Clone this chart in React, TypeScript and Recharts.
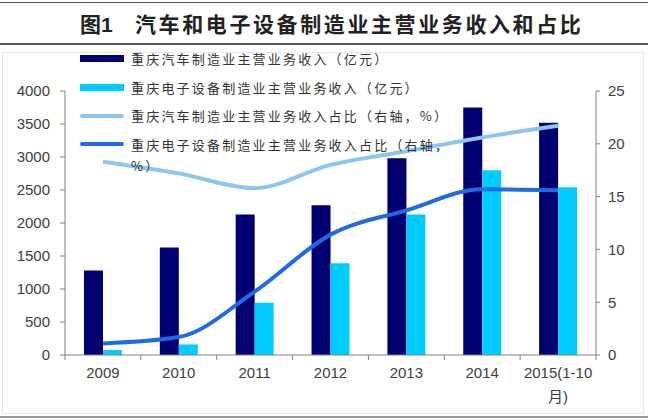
import React from "react";
import { Bar, ComposedChart, Legend, Line, XAxis, YAxis } from "recharts";

const categories = ["2009", "2010", "2011", "2012", "2013", "2014", "2015(1-10\n月)"];
const autoRevenue = [1280, 1630, 2130, 2270, 2980, 3750, 3520];
const elecRevenue = [75, 160, 790, 1390, 2130, 2800, 2540];
const autoShare = [18.3, 17.2, 15.8, 18.0, 19.3, 20.6, 21.7];
const elecShare = [1.1, 1.7, 6.0, 11.4, 13.7, 15.7, 15.6];

const leftTicks = [0, 500, 1000, 1500, 2000, 2500, 3000, 3500, 4000];
const rightTicks = [0, 5, 10, 15, 20, 25];

const SERIES_NAMES = [
  "重庆汽车制造业主营业务收入（亿元）",
  "重庆电子设备制造业主营业务收入（亿元）",
  "重庆汽车制造业主营业务收入占比（右轴，%）",
  "重庆电子设备制造业主营业务收入占比（右轴，%）",
];

const data = categories.map((c, i) => ({
  name: c,
  autoRev: autoRevenue[i],
  elecRev: elecRevenue[i],
  autoShare: autoShare[i],
  elecShare: elecShare[i],
}));

const SANS = "'Liberation Sans', Arial, sans-serif";
const CJK = "'Noto Sans CJK SC', sans-serif";
const AXIS = "#808080";
const TEXT = "#404040";
const TICK_SIZE = 5;
const TICK_MARGIN = 3;

const CategoryTick = (props: any) => {
  const { x, y, payload, width, visibleTicksCount, index } = props;
  const band =
    typeof width === "number" && visibleTicksCount ? width / visibleTicksCount : (payload.offset || 38) * 2;
  const axisY = y - TICK_SIZE - TICK_MARGIN;
  const lines = String(payload.value).split("\n");
  return (
    <g>
      <line x1={x - band / 2} x2={x - band / 2} y1={axisY} y2={axisY + TICK_SIZE} stroke={AXIS} />
      {index === visibleTicksCount - 1 && (
        <line x1={x + band / 2} x2={x + band / 2} y1={axisY} y2={axisY + TICK_SIZE} stroke={AXIS} />
      )}
      {lines.map((l, i) => (
        <text key={i} x={x} y={y + 15 + i * 24} textAnchor="middle" fontSize={15} fill={TEXT} fontFamily={SANS + ", " + CJK}>
          {l}
        </text>
      ))}
    </g>
  );
};

// keep legend rows in the same order as the series names
const LegendContent = ({ payload }: any) => {
  const items = [...(payload || [])].sort(
    (a: any, b: any) => SERIES_NAMES.indexOf(a.value) - SERIES_NAMES.indexOf(b.value)
  );
  return (
    <div style={{ fontFamily: CJK, fontSize: 13, color: "#333" }}>
      {items.map((item: any, i: number) => {
        const h = item.type === "rect" ? 7 : 4;
        return (
          <div key={i} style={{ display: "flex", alignItems: "flex-start", marginBottom: 7.5 }}>
            <span
              style={{
                display: "inline-block",
                width: 44,
                height: h,
                marginTop: (21 - h) / 2,
                background: item.color,
                borderRadius: item.type === "rect" ? 0 : 2,
                flex: "none",
              }}
            />
            <span style={{ marginLeft: 7, width: 326, letterSpacing: 2.2, lineHeight: "21px", lineBreak: "anywhere" }}>
              {item.value}
            </span>
          </div>
        );
      })}
    </div>
  );
};

export default function App() {
  return (
    <div style={{ position: "absolute", left: 0, top: 0, width: 648, height: 420, background: "#fff", overflow: "hidden" }}>
      <div style={{ position: "absolute", left: 0, top: 2, width: 648, height: 1, background: "#555" }} />
      <div style={{ position: "absolute", left: 0, top: 43, width: 648, height: 2, background: "#555" }} />
      <div
        style={{
          position: "absolute",
          left: 80,
          top: 11,
          fontFamily: CJK,
          fontWeight: 700,
          fontSize: 21,
          lineHeight: "24px",
          color: "#222",
          whiteSpace: "nowrap",
        }}
      >
        图<span style={{ fontFamily: SANS }}>1</span>
      </div>
      <div
        style={{
          position: "absolute",
          left: 135,
          top: 11,
          fontFamily: CJK,
          fontWeight: 700,
          fontSize: 21,
          lineHeight: "24px",
          letterSpacing: 2.6,
          color: "#222",
          whiteSpace: "nowrap",
        }}
      >
        汽车和电子设备制造业主营业务收入和占比
      </div>
      <div style={{ position: "absolute", left: 2, top: 52, width: 640, height: 360, border: "1px solid #e8e8e8" }} />
      <div style={{ position: "absolute", left: 0, top: 416, width: 648, height: 2, background: "#999" }} />
      <div style={{ position: "absolute", left: 0, top: 0 }}>
        <ComposedChart width={648} height={420} data={data} margin={{ top: 91, right: 7, bottom: 15, left: 15 }} barGap={0} barCategoryGap="25%">
          <XAxis
            dataKey="name"
            height={50}
            axisLine={{ stroke: AXIS }}
            tickLine={false}
            tickSize={TICK_SIZE}
            tickMargin={TICK_MARGIN}
            interval={0}
            tick={<CategoryTick />}
          />
          <YAxis
            yAxisId="left"
            width={50}
            domain={[0, 4000]}
            ticks={leftTicks}
            axisLine={{ stroke: AXIS }}
            tickLine={{ stroke: AXIS }}
            tickSize={5}
            tickMargin={10}
            tick={{ fontSize: 15, fill: TEXT, fontFamily: SANS }}
          />
          <YAxis
            yAxisId="right"
            orientation="right"
            width={45}
            domain={[0, 25]}
            ticks={rightTicks}
            axisLine={{ stroke: AXIS }}
            tickLine={{ stroke: AXIS }}
            tickSize={4}
            tickMargin={8}
            tick={{ fontSize: 15, fill: TEXT, fontFamily: SANS }}
          />
          <Legend
            layout="vertical"
            align="center"
            verticalAlign="middle"
            content={<LegendContent />}
            wrapperStyle={{ left: 80, top: 48, width: 390, height: "auto" }}
          />
          <Bar yAxisId="left" dataKey="autoRev" name={SERIES_NAMES[0]} fill="#000070" isAnimationActive={false} />
          <Bar yAxisId="left" dataKey="elecRev" name={SERIES_NAMES[1]} fill="#00ccff" isAnimationActive={false} />
          <Line
            yAxisId="right"
            type="monotone"
            dataKey="autoShare"
            name={SERIES_NAMES[2]}
            stroke="#8cc6f0"
            strokeWidth={4}
            dot={false}
            activeDot={false}
            isAnimationActive={false}
          />
          <Line
            yAxisId="right"
            type="monotone"
            dataKey="elecShare"
            name={SERIES_NAMES[3]}
            stroke="#1f6be6"
            strokeWidth={4}
            dot={false}
            activeDot={false}
            isAnimationActive={false}
          />
        </ComposedChart>
      </div>
    </div>
  );
}
